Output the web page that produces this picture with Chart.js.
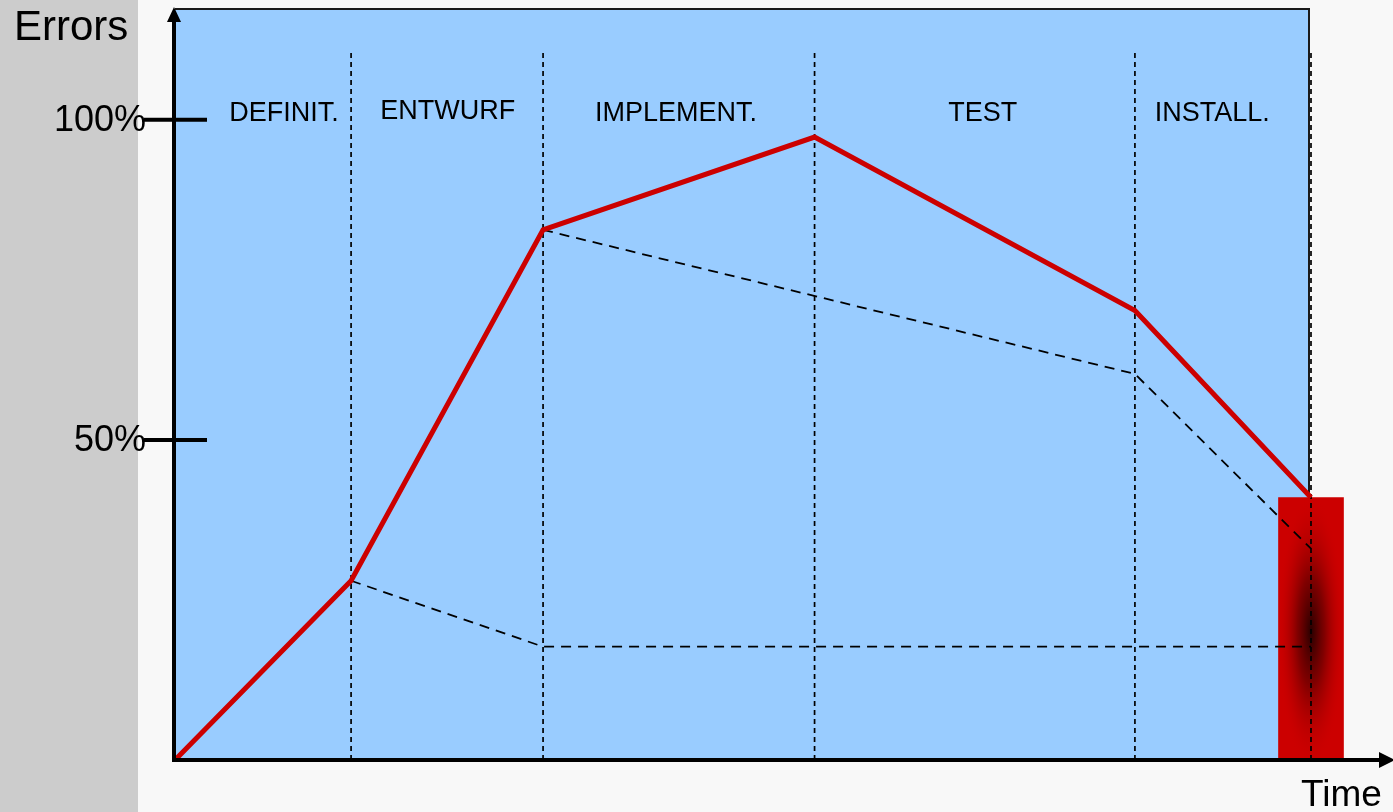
<!DOCTYPE html>
<html>
<head>
<meta charset="utf-8">
<title>Errors over time</title>
<script src="https://cdn.jsdelivr.net/npm/chart.js@4.4.1/dist/chart.umd.min.js"></script>
<style>
  html, body { margin: 0; padding: 0; background: #f8f8f8; }
  #wrap { position: relative; width: 1393px; height: 812px; }
</style>
</head>
<body>
<div id="wrap"><canvas id="chart"></canvas></div>
<script>
// Project phases (time axis runs 0..100)
const phaseNames   = ['DEFINIT.', 'ENTWURF', 'IMPLEMENT.', 'TEST', 'INSTALL.'];
const phaseEnds    = [15.5, 32.4, 56.3, 84.5, 100];
const phaseLabelX  = [9.6, 24.0, 44.1, 71.1, 91.3];
const phaseLabelY  = [100.9, 101.3, 100.9, 100.9, 100.9];

// Errors present (% of peak) at each phase boundary
const errTime      = [0, 15.5, 32.4, 56.3, 84.5, 100];
const errValues    = [0, 28, 82.8, 97.3, 70.2, 41];

// Dashed guide paths
const lowTime      = [15.5, 32.4, 100];
const lowValues    = [28, 17.7, 17.7];
const highTime     = [32.4, 84.5, 100];
const highValues   = [82.8, 60.3, 33];

// Residual errors at delivery
const residualTime  = [100];
const residualValue = [41];

// Y axis tick labels
const yTicks = [50, 100];
const yTickLabels = ['50%', '100%'];

const FONT = '"Liberation Sans", Arial, sans-serif';
const pts = (xs, ys) => xs.map((x, i) => ({ x, y: ys[i] }));

const phaseLineSets = phaseEnds.map(x => ({
  type: 'line',
  data: [{ x, y: 0 }, { x, y: 110.5 }],
  borderColor: '#000',
  borderWidth: 1.7,
  borderDash: [5, 4],
  pointRadius: 0,
  clip: false,
  order: 2
}));

const backdrop = {
  id: 'backdrop',
  beforeDraw(chart) {
    const { ctx, chartArea: a, width, height } = chart;
    ctx.save();
    ctx.fillStyle = '#f8f8f8';
    ctx.fillRect(0, 0, width, height);
    ctx.fillStyle = '#cccccc';
    ctx.fillRect(0, 0, 138, height);
    // plot panel
    ctx.fillStyle = '#99ccff';
    ctx.fillRect(a.left - 1, a.top, a.right - 2 - (a.left - 1), a.bottom - a.top);
    ctx.strokeStyle = '#1a1a1a';
    ctx.lineWidth = 2;
    ctx.beginPath();
    ctx.moveTo(a.left, a.top);
    ctx.lineTo(a.right - 2, a.top);
    ctx.lineTo(a.right - 2, a.bottom);
    ctx.stroke();
    ctx.restore();
  },
  afterDatasetDraw(chart, args) {
    if (args.meta.type !== 'bar') return;
    const { ctx } = chart;
    args.meta.data.forEach(el => {
      const left = el.x - el.width / 2;
      const top = Math.min(el.y, el.base);
      const h = Math.abs(el.base - el.y);
      const cx = el.x, cy = top + h * 0.51;
      ctx.save();
      ctx.beginPath();
      ctx.rect(left, top, el.width, h);
      ctx.clip();
      ctx.translate(cx, cy);
      ctx.scale(1, 4.0);
      const g = ctx.createRadialGradient(0, 0, 0, 0, 0, 34);
      g.addColorStop(0, 'rgba(40,0,0,1)');
      g.addColorStop(0.4, 'rgba(110,0,0,0.8)');
      g.addColorStop(1, 'rgba(204,0,0,0)');
      ctx.fillStyle = g;
      ctx.fillRect(-el.width, -h, el.width * 2, h * 2);
      ctx.restore();
    });
  },
  afterDatasetsDraw(chart) {
    const { ctx, scales: { x, y } } = chart;
    ctx.save();
    ctx.fillStyle = '#000';
    ctx.strokeStyle = '#000';

    // axes
    const x0 = x.getPixelForValue(0) - 1;
    const y0 = y.getPixelForValue(0);
    ctx.lineWidth = 4;
    ctx.beginPath();
    ctx.moveTo(x0, y0);
    ctx.lineTo(x0, 18);
    ctx.moveTo(x0 - 2, y0);
    ctx.lineTo(chart.width - 10, y0);
    ctx.stroke();
    ctx.beginPath();
    ctx.moveTo(x0, 7);
    ctx.lineTo(x0 - 7, 22);
    ctx.lineTo(x0 + 7, 22);
    ctx.closePath();
    ctx.fill();
    ctx.beginPath();
    ctx.moveTo(chart.width + 2, y0);
    ctx.lineTo(chart.width - 14, y0 - 8);
    ctx.lineTo(chart.width - 14, y0 + 8);
    ctx.closePath();
    ctx.fill();

    // y ticks
    ctx.lineWidth = 4;
    ctx.font = `36px ${FONT}`;
    ctx.textAlign = 'right';
    ctx.textBaseline = 'middle';
    yTicks.forEach((v, i) => {
      const py = y.getPixelForValue(v);
      ctx.beginPath();
      ctx.moveTo(144, py);
      ctx.lineTo(207, py);
      ctx.stroke();
      ctx.fillText(yTickLabels[i], 146, py + 1);
    });

    // phase names
    ctx.font = `27px ${FONT}`;
    ctx.textAlign = 'center';
    phaseNames.forEach((n, i) => {
      ctx.fillText(n, x.getPixelForValue(phaseLabelX[i]), y.getPixelForValue(phaseLabelY[i]));
    });

    // axis titles
    ctx.textAlign = 'left';
    ctx.textBaseline = 'alphabetic';
    ctx.font = `42px ${FONT}`;
    ctx.fillText('Errors', 14, 40);
    ctx.font = `37px ${FONT}`;
    ctx.fillText('Time', 1301, 806);
    ctx.restore();
  }
};

new Chart(document.getElementById('chart'), {
  data: {
    datasets: [
      {
        type: 'line',
        data: pts(errTime, errValues),
        borderColor: '#cc0000',
        borderWidth: 5,
        pointRadius: 0,
        tension: 0,
        borderJoinStyle: 'miter',
        clip: false,
        order: 0
      },
      {
        type: 'line',
        data: pts(lowTime, lowValues),
        borderColor: '#000',
        borderWidth: 1.8,
        borderDash: [10, 7],
        pointRadius: 0,
        clip: false,
        order: 1
      },
      {
        type: 'line',
        data: pts(highTime, highValues),
        borderColor: '#000',
        borderWidth: 1.8,
        borderDash: [10, 7],
        pointRadius: 0,
        clip: false,
        order: 1
      },
      ...phaseLineSets,
      {
        type: 'bar',
        data: pts(residualTime, residualValue),
        backgroundColor: '#cc0000',
        borderWidth: 0,
        barThickness: 65,
        clip: false,
        order: 10
      }
    ]
  },
  options: {
    responsive: true,
    maintainAspectRatio: false,
    animation: false,
    layout: { autoPadding: false, padding: { left: 175, right: 82, top: 9, bottom: 52 } },
    plugins: { legend: { display: false }, tooltip: { enabled: false } },
    scales: {
      x: { type: 'linear', min: 0, max: 100, display: false, offset: false },
      y: { type: 'linear', min: 0, max: 117.3, display: false }
    }
  },
  plugins: [backdrop]
});
</script>
</body>
</html>
